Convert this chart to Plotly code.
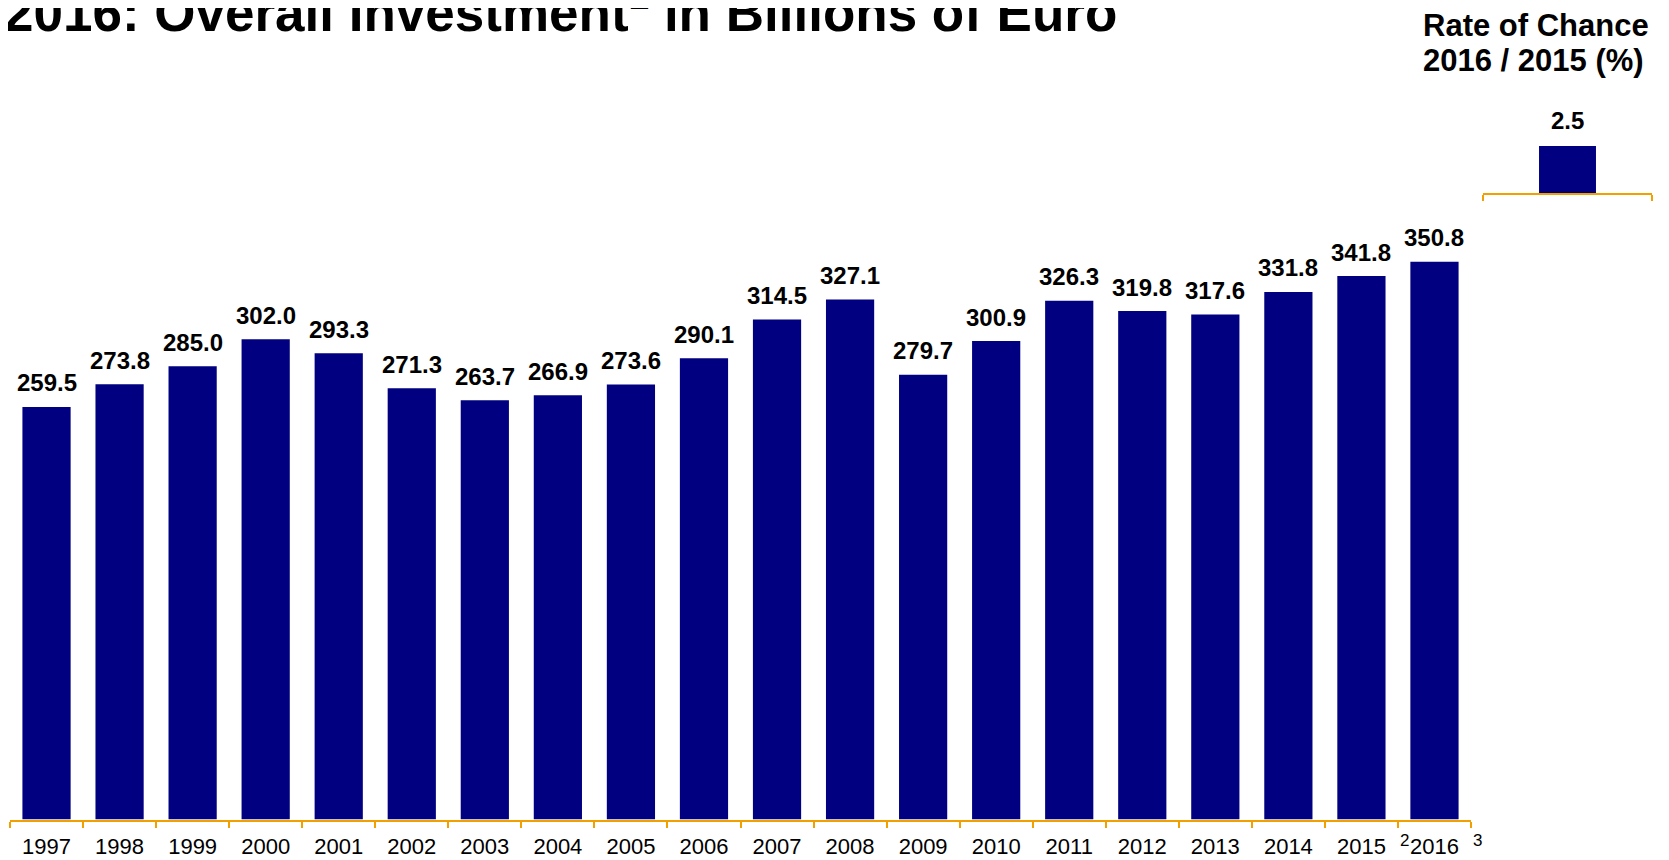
import plotly.graph_objects as go

W, H = 1669, 860
OFF = 8  # the page body adds an 8 px margin around the plot

years = ["1997", "1998", "1999", "2000", "2001", "2002", "2003", "2004", "2005", "2006",
         "2007", "2008", "2009", "2010", "2011", "2012", "2013", "2014", "2015", "2016"]
investment = [259.5, 273.8, 285.0, 302.0, 293.3, 271.3, 263.7, 266.9, 273.6, 290.1,
              314.5, 327.1, 279.7, 300.9, 326.3, 319.8, 317.6, 331.8, 341.8, 350.8]
footnotes = {"2015": "2", "2016": "3"}

change_cat = ["2016/2015"]
change_val = [2.5]

title = "2016: Overall Investment<sup>1</sup> in Billions of Euro"
side_title = ["Rate of Chance", "2016 / 2015 (%)"]

NAVY = "#000080"
ORANGE = "#F2A000"
FONT = "Liberation Sans, Arial, sans-serif"


# screen pixel -> paper fraction
def px_x(x):
    return (x - OFF) / W


def px_y(y):
    return 1 - (y - OFF) / H


fig = go.Figure()

fig.add_trace(go.Bar(x=years, y=investment, marker=dict(color=NAVY, line=dict(width=0)),
                     width=0.66, xaxis="x", yaxis="y", hoverinfo="x+y"))
fig.add_trace(go.Bar(x=change_cat, y=change_val, marker=dict(color=NAVY, line=dict(width=0)),
                     width=0.337, xaxis="x2", yaxis="y2", hoverinfo="y"))

axis_common = dict(showline=True, linecolor=ORANGE, linewidth=2, ticks="outside",
                   tickcolor=ORANGE, tickwidth=2, ticklen=6, tickson="boundaries",
                   showgrid=False, zeroline=False, fixedrange=True, tickangle=0)

fig.update_layout(
    width=W, height=H,
    margin=dict(l=0, r=0, t=0, b=0),
    paper_bgcolor="white", plot_bgcolor="white",
    showlegend=False,
    font=dict(family=FONT, color="black"),
    xaxis=dict(domain=[px_x(10), px_x(1471)], type="category", range=[-0.5, len(years) - 0.5],
               tickfont=dict(size=22, family=FONT), ticklabelstandoff=6,
               anchor="y", **axis_common),
    yaxis=dict(domain=[px_y(819.5), px_y(183.5)], range=[0, 400], visible=False,
               fixedrange=True, anchor="x"),
    xaxis2=dict(domain=[px_x(1483), px_x(1652)], type="category", showticklabels=False,
                range=[-0.5, 0.5], anchor="y2", **axis_common),
    yaxis2=dict(domain=[px_y(193), px_y(99)], range=[0, 5], visible=False,
                fixedrange=True, anchor="x2"),
)

annotations = []
# category axes: annotation x given as category index
for i, v in enumerate(investment):
    annotations.append(dict(x=i, y=v, xref="x", yref="y", text="<b>%.1f</b>" % v,
                            showarrow=False, yanchor="middle", yshift=24,
                            font=dict(size=24, family=FONT, color="black")))
for yr, sup in footnotes.items():
    annotations.append(dict(x=years.index(yr), y=0, xref="x", yref="y", text=sup,
                            showarrow=False, xanchor="left", yanchor="middle",
                            xshift=37, yshift=-21,
                            font=dict(size=17, family=FONT, color="black")))
for i, v in enumerate(change_val):
    annotations.append(dict(x=i, y=v, xref="x2", yref="y2", text="<b>%.1f</b>" % v,
                            showarrow=False, yanchor="middle", yshift=25.5,
                            font=dict(size=24, family=FONT, color="black")))

annotations.append(dict(x=px_x(2), y=px_y(8.5), xref="paper", yref="paper", text="<b>" + title + "</b>",
                        showarrow=False, xanchor="left", yanchor="middle",
                        font=dict(size=53, family=FONT, color="black")))
annotations.append(dict(x=px_x(1421), y=px_y(26), xref="paper", yref="paper",
                        text="<b>" + side_title[0] + "</b>", showarrow=False,
                        xanchor="left", yanchor="middle",
                        font=dict(size=31, family=FONT, color="black")))
annotations.append(dict(x=px_x(1421), y=px_y(61), xref="paper", yref="paper",
                        text="<b>" + side_title[1] + "</b>", showarrow=False,
                        xanchor="left", yanchor="middle",
                        font=dict(size=31, family=FONT, color="black")))

fig.update_layout(annotations=annotations)

fig.write_html("out.html", config={"displayModeBar": False})
